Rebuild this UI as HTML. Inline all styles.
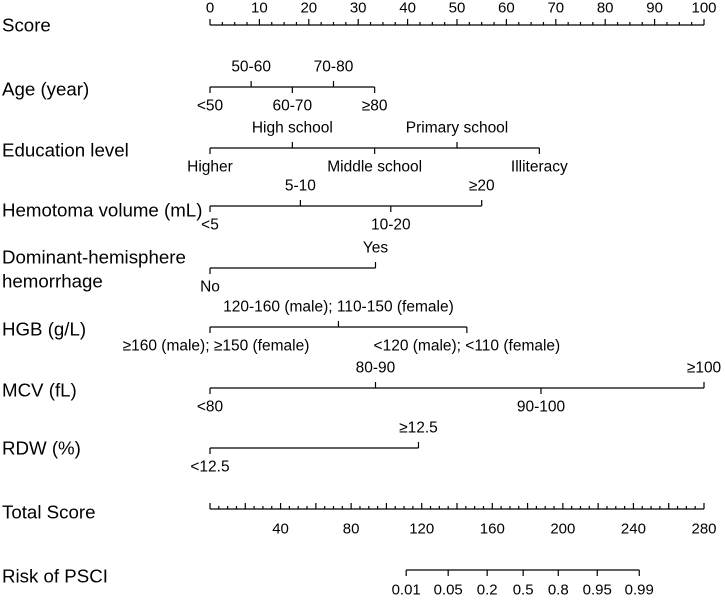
<!DOCTYPE html>
<html><head><meta charset="utf-8"><style>
body{margin:0;background:#fff;}
svg text{font-family:"Liberation Sans",Arial,sans-serif;fill:#000;}
</style></head><body>
<svg id="nomo" width="725" height="596" viewBox="0 0 725 596" xmlns="http://www.w3.org/2000/svg"></svg>
<script>
// Data (points on 0-100 scale)
const scoreTicks = [0,10,20,30,40,50,60,70,80,90,100];
const ageLabels = ["<50","50-60","60-70","70-80","≥80"];
const agePoints = [0,8.33,16.67,25,33.33];
const eduLabels = ["Higher","High school","Middle school","Primary school","Illiteracy"];
const eduPoints = [0,16.67,33.33,50,66.67];
const hemLabels = ["<5","5-10","10-20","≥20"];
const hemPoints = [0,18.3,36.6,55];
const domLabels = ["No","Yes"];
const domPoints = [0,33.5];
const hgbLabels = ["≥160 (male); ≥150 (female)","120-160 (male); 110-150 (female)","<120 (male); <110 (female)"];
const hgbPoints = [0,26,52];
const mcvLabels = ["<80","80-90","90-100","≥100"];
const mcvPoints = [0,33.5,67,100];
const rdwLabels = ["<12.5","≥12.5"];
const rdwPoints = [0,42.2];
const totalTicks = [40,80,120,160,200,240,280];
const totalMax = 280;
const riskLabels = ["0.01","0.05","0.2","0.5","0.8","0.95","0.99"];
const riskTotals = [111.2,135,157.1,177.5,197.4,219.5,243.3];

const X0=210, X1=704;
const VAL=15.5, TITLE=18.7, TICK=15;
const px = p => X0 + p/100*(X1-X0);
const tx = t => X0 + t/totalMax*(X1-X0);
const svg = document.getElementById('nomo');
const NS='http://www.w3.org/2000/svg';
function line(x1,y1,x2,y2,name){
  const l=document.createElementNS(NS,'line');
  l.setAttribute('x1',x1);l.setAttribute('y1',y1);l.setAttribute('x2',x2);l.setAttribute('y2',y2);
  l.setAttribute('stroke','#000');l.setAttribute('stroke-width','1.2');
  
  
  svg.appendChild(l);
}
function text(x,y,s,size,anchor,name){
  const t=document.createElementNS(NS,'text');
  t.setAttribute('x',x);t.setAttribute('y',y);t.setAttribute('font-size',size);
  t.setAttribute('text-anchor',anchor);t.setAttribute('dominant-baseline','central');
  t.textContent=s;
  
  
  svg.appendChild(t);
}
// Score axis
const sy=25;
line(X0,sy,X1,sy,'score-axis');
for(let v=0;v<=100;v+=2.5){
  const major = v%10===0;
  line(px(v),sy,px(v),sy-(major?6:3),'score-tick');
}
scoreTicks.forEach(v=>text(px(v),8,String(v),TICK,'middle','score-tick-label'));
text(2,25,'Score',TITLE,'start','score-title');

function variable(title,titleY,y,labels,points,name,firstShift){
  line(px(points[0]),y,px(points[points.length-1]),y,name+'-axis');
  labels.forEach((lab,i)=>{
    const up = i%2===1;
    line(px(points[i]),y,px(points[i]),y+(up?-6:6),name+'-tick');
    let x=px(points[i]);
    if(i===0 && firstShift) x+=firstShift;
    text(x,up?y-20:y+19,lab,VAL,'middle',name+'-label');
  });
  if(Array.isArray(title)) title.forEach((t,j)=>text(2,titleY[j],t,TITLE,'start',name+'-title'));
  else text(2,titleY,title,TITLE,'start',name+'-title');
}
variable('Age (year)',89,87,ageLabels,agePoints,'age');
variable('Education level',150,148,eduLabels,eduPoints,'education');
variable('Hemotoma volume (mL)',210,206,hemLabels,hemPoints,'hemotoma');
variable(['Dominant-hemisphere','hemorrhage'],[257,281],268,domLabels,domPoints,'dominant');
variable('HGB (g/L)',329,327,hgbLabels,hgbPoints,'hgb',6);
variable('MCV (fL)',390,388,mcvLabels,mcvPoints,'mcv');
variable('RDW (%)',448,448,rdwLabels,rdwPoints,'rdw');

// Total score
const ty=509;
line(X0,ty,X1,ty,'total-score-axis');
for(let v=0;v<=totalMax;v+=5){
  const major=v%20===0;
  line(tx(v),ty,tx(v),ty-(major?6:3),'total-score-tick');
}
totalTicks.forEach(v=>text(tx(v),529,String(v),TICK,'middle','total-score-tick-label'));
text(2,512,'Total Score',TITLE,'start','total-score-title');

// Risk
const ry=570;
line(tx(riskTotals[0]),ry,tx(riskTotals[riskTotals.length-1]),ry,'risk-axis');
riskTotals.forEach((v,i)=>{
  line(tx(v),ry,tx(v),ry+6,'risk-tick');
  text(tx(v),590,riskLabels[i],TICK,'middle','risk-tick-label');
});
text(2,576,'Risk of PSCI',TITLE,'start','risk-title');
</script>
</body></html>
